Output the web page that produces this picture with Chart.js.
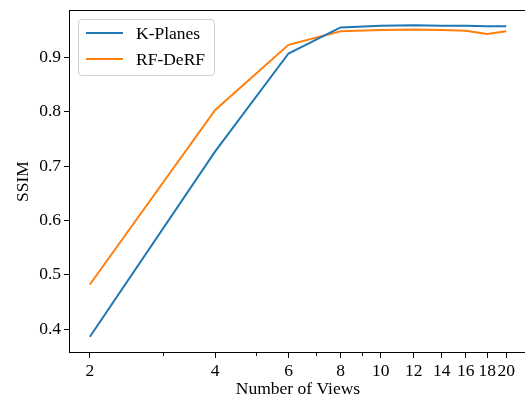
<!DOCTYPE html>
<html>
<head>
<meta charset="utf-8">
<script src="https://cdn.jsdelivr.net/npm/chart.js@4.4.0/dist/chart.umd.min.js"></script>
<style>
  html, body { margin: 0; padding: 0; background: #fff; overflow: hidden; }
  #wrap { position: relative; width: 528px; height: 400px; }
  #legend {
    position: absolute; left: 78px; top: 19px; width: 135px; height: 55px;
    border: 1px solid #d0d0d0; border-radius: 4px; background: rgba(255,255,255,0.8);
    font: 17.5px "Liberation Serif", serif; color: #000;
  }
  .row { position: relative; height: 26px; line-height: 26px; }
  .row span.sw { position: absolute; left: 7px; top: 12px; width: 37px; height: 2px; }
  .row span.lb { position: absolute; left: 57px; top: 0; }
</style>
</head>
<body>
<div id="wrap">
  <canvas id="chart" width="528" height="400"></canvas>
  <div id="legend"></div>
</div>
<script>
// valeurs
const views = [2, 4, 6, 8, 10, 12, 14, 16, 18, 20];
const kPlanes = [0.386, 0.727, 0.907, 0.955, 0.958, 0.959, 0.958, 0.958, 0.957, 0.957];
const rfDerf = [0.482, 0.803, 0.923, 0.948, 0.950, 0.951, 0.950, 0.949, 0.943, 0.948];
const xTicks = [2, 4, 6, 8, 10, 12, 14, 16, 18, 20];
const xMinorTicks = [3, 5, 7, 9];
const yTicks = [0.4, 0.5, 0.6, 0.7, 0.8, 0.9];

const serif = '"Liberation Serif", "Times New Roman", serif';
const fontSize = 17.5;

// cadre complet + petites graduations (style matplotlib)
const framePlugin = {
  id: 'frame',
  afterDraw(chart) {
    const { ctx, chartArea: a } = chart;
    const xs = chart.scales.x;
    ctx.save();
    ctx.strokeStyle = '#000';
    ctx.lineWidth = 1;
    ctx.strokeRect(Math.round(a.left) + 0.5, Math.round(a.top) + 0.5,
      Math.round(a.right - a.left), Math.round(a.bottom - a.top) - 1);
    ctx.beginPath();
    xMinorTicks.forEach(v => {
      const px = Math.round(xs.getPixelForValue(v)) + 0.5;
      ctx.moveTo(px, a.bottom);
      ctx.lineTo(px, a.bottom + 3);
    });
    ctx.stroke();
    ctx.restore();
  }
};

const chart = new Chart(document.getElementById('chart'), {
  type: 'line',
  data: {
    datasets: [
      {
        label: 'K-Planes',
        data: views.map((v, i) => ({ x: v, y: kPlanes[i] })),
        borderColor: '#1f77b4',
        borderWidth: 2,
        pointRadius: 0,
        tension: 0
      },
      {
        label: 'RF-DeRF',
        data: views.map((v, i) => ({ x: v, y: rfDerf[i] })),
        borderColor: '#ff7f0e',
        borderWidth: 2,
        pointRadius: 0,
        tension: 0
      }
    ]
  },
  options: {
    responsive: false,
    animation: false,
    layout: { padding: { left: 9, top: 10, right: 1, bottom: 0 } },
    plugins: {
      legend: { display: false },
      tooltip: { enabled: false }
    },
    scales: {
      x: {
        type: 'logarithmic',
        min: 1.782,
        max: 22.44,
        afterBuildTicks: s => { s.ticks = xTicks.map(v => ({ value: v })); },
        afterFit: s => { s.height = 47; s.paddingLeft = 0; s.paddingRight = 0; },
        ticks: {
          autoSkip: false,
          maxRotation: 0,
          padding: 3,
          color: '#000',
          font: { family: serif, size: fontSize },
          callback: v => String(v)
        },
        grid: { drawOnChartArea: false, tickLength: 5, tickColor: '#000', lineWidth: 1 },
        border: { display: false },
        title: {
          display: true,
          text: 'Number of Views',
          color: '#000',
          font: { family: serif, size: fontSize },
          padding: { top: 0, bottom: 0 }
        }
      },
      y: {
        type: 'linear',
        min: 0.356,
        max: 0.987,
        afterBuildTicks: s => { s.ticks = yTicks.map(v => ({ value: v })); },
        afterFit: s => { s.width = 60; s.paddingTop = 0; s.paddingBottom = 0; },
        ticks: {
          padding: 3,
          color: '#000',
          font: { family: serif, size: fontSize },
          callback: v => Number(v).toFixed(1)
        },
        grid: { drawOnChartArea: false, tickLength: 5, tickColor: '#000', lineWidth: 1 },
        border: { display: false },
        title: {
          display: true,
          text: 'SSIM',
          color: '#000',
          font: { family: serif, size: fontSize },
          padding: { top: 4, bottom: 4 }
        }
      }
    }
  },
  plugins: [framePlugin]
});

// légende dans le coin haut gauche
const legend = document.getElementById('legend');
chart.data.datasets.forEach(ds => {
  const row = document.createElement('div');
  row.className = 'row';
  row.innerHTML = `<span class="sw" style="background:${ds.borderColor}"></span><span class="lb">${ds.label}</span>`;
  legend.appendChild(row);
});
</script>
</body>
</html>
